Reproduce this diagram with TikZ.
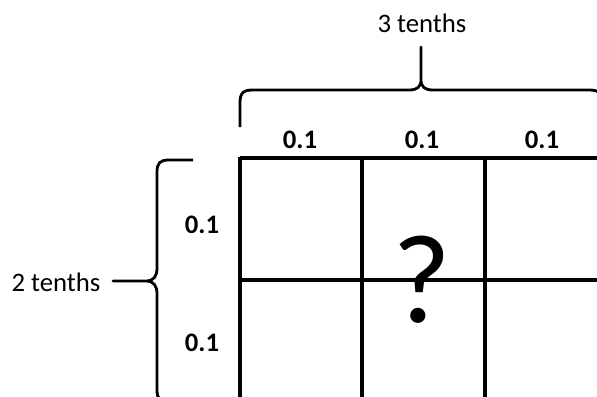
\documentclass[tikz,border=0pt]{standalone}
\usepackage{fontspec}
\setmainfont{Carlito}

\begin{document}
\begin{tikzpicture}[x=0.025cm, y=-0.025cm,
    grid line/.style={line width=2.4pt},
    brace line/.style={line width=2pt, line join=round, line cap=butt},
    tick label/.style={font=\fontsize{19}{22}\selectfont\bfseries},
    span label/.style={font=\fontsize{19}{22}\selectfont}]
    \useasboundingbox (0,0) rectangle (597,396);
    \clip (0,0) rectangle (597,396);
    % grid of tenths
    \draw[grid line] (240,158) -- (620,158);
    \draw[grid line] (240,280) -- (620,280);
    \foreach \x in {240,362,485}
        \draw[grid line] (\x,157) -- (\x,420);
    % brace over the columns
    \draw[brace line] (240,127) -- (240,103) .. controls (240,93) and (243,90) .. (253,90)
        -- (409,90) .. controls (417,90) and (421,87) .. (421,80) -- (421,47)
        -- (421,80) .. controls (421,87) and (425,90) .. (433,90)
        -- (589,90) .. controls (599,90) and (602,93) .. (602,103) -- (602,127);
    % brace beside the rows
    \draw[brace line] (193,160) -- (169,160) .. controls (160,160) and (157,163) .. (157,172)
        -- (157,268) .. controls (157,276) and (154,281) .. (146,281) -- (113,281)
        -- (146,281) .. controls (154,281) and (157,286) .. (157,294)
        -- (157,390) .. controls (157,399) and (160,402) .. (169,402) -- (193,402);
    % labels
    \node[span label] (cols) at (422,23) {3 tenths};
    \node[span label] (rows) at (56,282) {2 tenths};
    \foreach \x/\n in {300/a,422/b,542/c}
        \node[tick label] (col \n) at (\x,140) {0.1};
    \node[tick label] (row a) at (202,225) {0.1};
    \node[tick label] (row b) at (202,343) {0.1};
    \node[font=\fontsize{90}{94}\selectfont] (unknown) at (422,280) {?};
\end{tikzpicture}
\end{document}
